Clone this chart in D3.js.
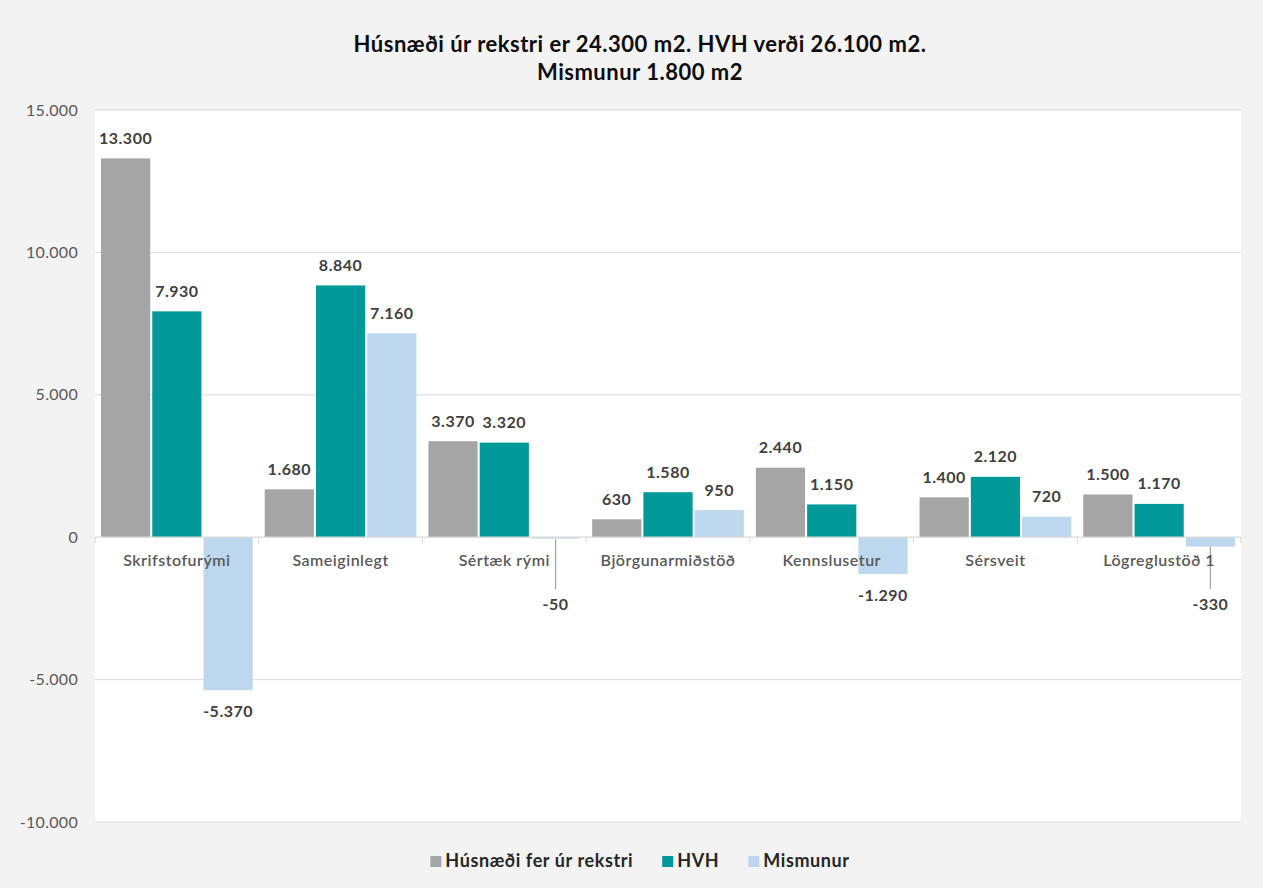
<!DOCTYPE html>
<html><head><meta charset="utf-8">
<script src="https://cdn.jsdelivr.net/npm/d3@7"></script>
<style>
html,body{margin:0;padding:0;background:#f3f3f3;}
svg{display:block;font-family:Lato,"Open Sans",sans-serif;}
</style></head>
<body>
<svg id="chart" width="1263" height="888"></svg>
<script>
const categories = ["Skrifstofurými","Sameiginlegt","Sértæk rými","Björgunarmiðstöð","Kennslusetur","Sérsveit","Lögreglustöð 1"];
const seriesNames = ["Húsnæði fer úr rekstri","HVH","Mismunur"];
const husnaedi = [13300,1680,3370,630,2440,1400,1500];
const hvh = [7930,8840,3320,1580,1150,2120,1170];
const mismunur = [-5370,7160,-50,950,-1290,720,-330];
const yTicks = [-10000,-5000,0,5000,10000,15000];
const titleLines = ["Húsnæði úr rekstri er 24.300 m2. HVH verði 26.100 m2.","Mismunur 1.800 m2"];
const colors = ["#a5a5a5","#009999","#bdd7ee"];

const series = [husnaedi,hvh,mismunur];
const loc = d3.formatLocale({decimal:",",thousands:".",grouping:[3],currency:["",""],minus:"-"});
const fmt = loc.format(",d");

const svg = d3.select("#chart");
const W=1263,H=888;
svg.append("rect").attr("width",W).attr("height",H).attr("fill","#f3f3f3");
const L=95,R=1241,T=110,B=822;
svg.append("rect").attr("x",L).attr("y",T).attr("width",R-L).attr("height",B-T).attr("fill","#ffffff");

const x0 = d3.scaleBand().domain(categories).range([L,R]).paddingInner(0).paddingOuter(0);
const x1 = d3.scaleBand().domain(seriesNames).range([6,x0.bandwidth()-6]).paddingInner(0.04);
const y = d3.scaleLinear().domain([-10000,15000]).range([B,T]);

// gridlines
svg.append("g").selectAll("line").data(yTicks.filter(d=>d!==0)).join("line")
  .attr("x1",L).attr("x2",R).attr("y1",d=>y(d)).attr("y2",d=>y(d))
  .attr("stroke","#d9d9d9").attr("stroke-width",1);

// y labels
const yAxis = d3.axisLeft(y).tickValues(yTicks).tickFormat(fmt).tickSize(0).tickPadding(17);
const gy = svg.append("g").attr("transform",`translate(${L},0)`).call(yAxis);
gy.select(".domain").remove();
gy.selectAll("text").attr("font-size",16).attr("fill","#595959").attr("font-family","Lato,sans-serif").attr("letter-spacing",0.3);

// bars
const groups = svg.append("g").selectAll("g").data(categories).join("g")
  .attr("transform",d=>`translate(${x0(d)},0)`);
const barData = (c,i)=>seriesNames.map((s,k)=>({s,k,v:series[k][i]}));
groups.each(function(c,i){
  const g=d3.select(this);
  const bd=barData(c,i);
  g.selectAll("rect").data(bd).join("rect")
   .attr("x",d=>x1(d.s)).attr("width",x1.bandwidth())
   .attr("y",d=>y(Math.max(0,d.v))).attr("height",d=>Math.abs(y(d.v)-y(0)))
   .attr("fill",d=>colors[d.k]);
});

// zero axis
const gx = svg.append("g").attr("transform",`translate(0,${y(0)})`);
gx.append("line").attr("x1",L).attr("x2",R).attr("stroke","#d9d9d9").attr("stroke-width",1.3);
gx.selectAll("line.tk").data(d3.range(categories.length+1)).join("line").attr("class","tk")
  .attr("x1",i=>L+i*x0.bandwidth()).attr("x2",i=>L+i*x0.bandwidth())
  .attr("y1",0).attr("y2",6).attr("stroke","#d9d9d9");
gx.selectAll("text").data(categories).join("text")
  .attr("x",d=>x0(d)+x0.bandwidth()/2).attr("y",29)
  .attr("text-anchor","middle").attr("font-size",16).attr("font-weight",600)
  .attr("letter-spacing",0.5)
  .attr("fill","#595959").text(d=>d);

// value labels
const leaderThreshold = y(0)+50;
const movedLabelY = y(0)+67;
groups.each(function(c,i){
  const g=d3.select(this);
  barData(c,i).forEach(d=>{
    const cx = x1(d.s)+x1.bandwidth()/2;
    let ly;
    if(d.v>=0){ ly = y(d.v)-20; }
    else {
      ly = y(d.v)+21;
      if(ly<leaderThreshold){
        g.append("line").attr("x1",cx).attr("x2",cx)
          .attr("y1",Math.max(y(d.v),y(0)+2)).attr("y2",movedLabelY-15)
          .attr("stroke","#a6a6a6").attr("stroke-width",1.3);
        ly=movedLabelY;
      }
    }
    g.append("text").attr("x",cx).attr("y",ly).attr("dy","0.35em")
     .attr("text-anchor","middle").attr("font-size",16).attr("font-weight",700)
     .attr("letter-spacing",0.5)
     .attr("fill","#404040").text(fmt(d.v));
  });
});

// title
svg.append("g").selectAll("text").data(titleLines).join("text")
  .attr("x",640).attr("y",(d,i)=>44+i*28).attr("dy","0.35em")
  .attr("text-anchor","middle").attr("font-size",22).attr("font-weight",700)
  .attr("letter-spacing",0.5)
  .attr("fill","#0d0d0d").text(d=>d);

// legend
let cur=0;
const tmp = svg.append("g");
seriesNames.forEach((s,k)=>{
  const it = tmp.append("g");
  it.append("rect").attr("x",0).attr("y",-5).attr("width",11).attr("height",11).attr("fill",colors[k]);
  const t = it.append("text").attr("x",15).attr("y",0).attr("dy","0.35em")
    .attr("font-size",18).attr("font-weight",700).attr("letter-spacing",0.6)
    .attr("fill","#262626").text(s);
  const w = 15+t.node().getComputedTextLength();
  it.attr("transform",`translate(${cur},0)`);
  cur += w+29;
});
const totalW = cur-29;
tmp.attr("transform",`translate(${640-totalW/2},861)`);
</script>
</body></html>
